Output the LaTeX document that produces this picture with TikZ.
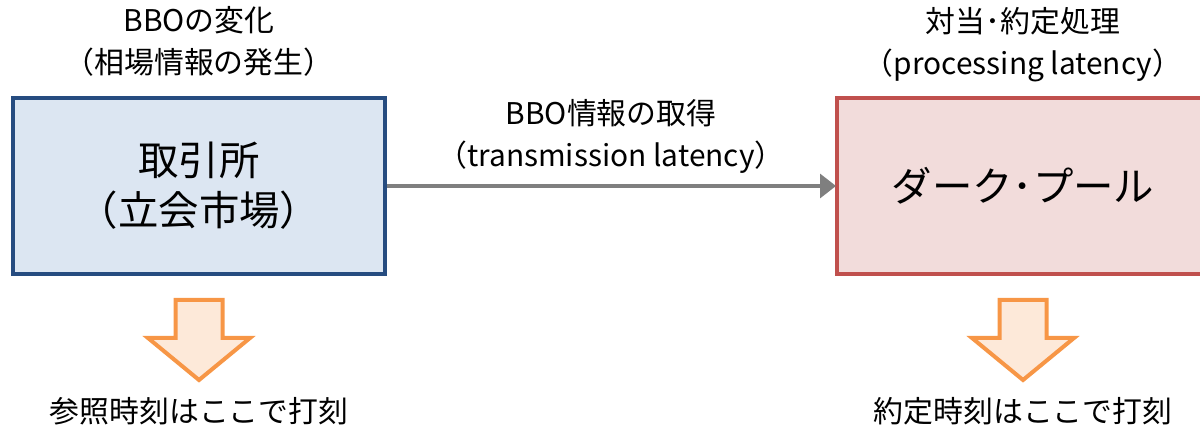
\documentclass[tikz,border=0pt]{standalone}
\usepackage{fontspec}
\setmainfont{Noto Sans CJK JP}
\usetikzlibrary{arrows.meta, positioning}
\definecolor{exblue}{HTML}{264C80}
\definecolor{exfill}{HTML}{DCE6F2}
\definecolor{dpred}{HTML}{C0504D}
\definecolor{dpfill}{HTML}{F2DCDB}
\definecolor{stampor}{HTML}{F79646}
\definecolor{stampbg}{HTML}{FDE9D9}
\definecolor{flowgray}{HTML}{7F7F7F}
\tikzset{
  xbox/.style={draw=exblue, fill=exfill, line width=0.08cm, align=center,
    minimum width=7.44cm, minimum height=3.52cm, font=\fontsize{23}{28.5}\selectfont},
  dbox/.style={xbox, draw=dpred, fill=dpfill},
  note/.style={align=center, inner sep=0pt, font=\fontsize{17}{23.8}\selectfont},
  flow/.style={-{Triangle[length=0.32cm, width=0.48cm]}, draw=flowgray, line width=0.065cm,
    shorten >=-0.02cm},
  stamp/.pic={
    \draw[stampor, fill=stampbg, line width=0.08cm, miter limit=10]
      (-0.47,0) -- (0.47,0) -- (0.47,-0.76) -- (1.02,-0.76) -- (0,-1.6)
      -- (-1.02,-0.76) -- (-0.47,-0.76) -- cycle;
    \coordinate (-tip) at (0,-1.6);
  }
}
\begin{document}
\begin{tikzpicture}
\useasboundingbox (0,0) rectangle (24,8.52);
\node[xbox] (exch) at (3.98,4.8) {取引所\\（立会市場）};
\node[dbox] (pool) at (20.46,4.8) {ダーク･プール};
\node[note, above=0.38cm of exch] (bbochg) {BBOの変化\\（相場情報の発生）};
\node[note, above=0.28cm of pool] (match) {対当･約定処理\\（processing latency）};
\draw[flow] (exch) -- (pool) coordinate[pos=0.5] (mid);
\node[note, above=0.25cm of mid] (fetch) {BBO情報の取得\\（transmission latency）};
\path (exch.south) ++(0,-0.48) pic (refst) {stamp};
\path (pool.south) ++(0,-0.48) pic (exest) {stamp};
\node[note, below=0.34cm of refst-tip] (reftime) {参照時刻はここで打刻};
\node[note, below=0.34cm of exest-tip] (exetime) {約定時刻はここで打刻};
\end{tikzpicture}
\end{document}
